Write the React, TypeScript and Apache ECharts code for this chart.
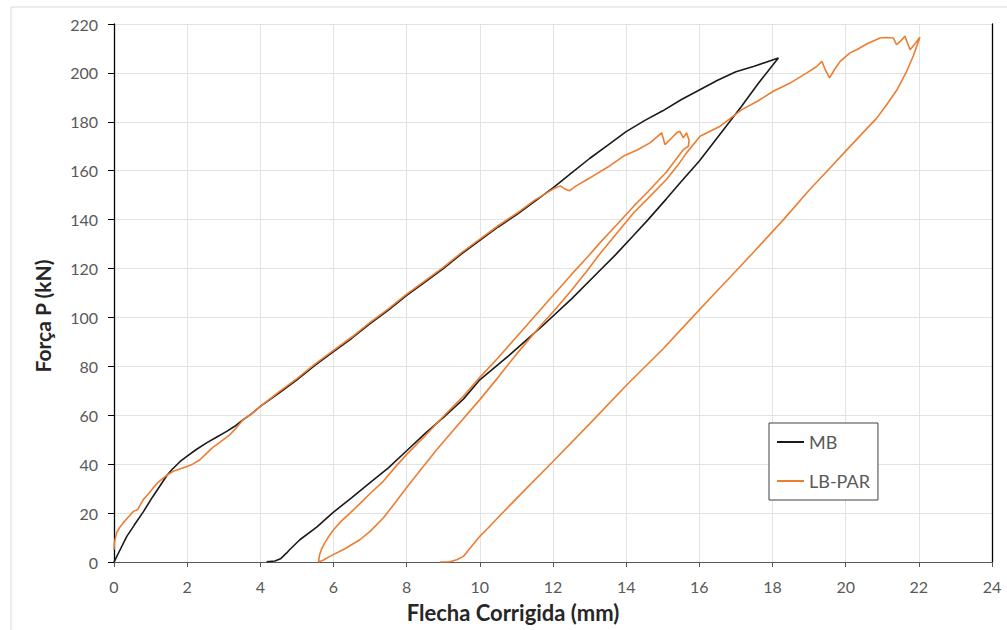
import React, { useEffect, useRef } from "react";
import * as echarts from "echarts";

// Axis ranges / ticks
const xMin = 0, xMax = 24, xStep = 2;
const yMin = 0, yMax = 220, yStep = 20;

const seriesNames = ["MB", "LB-PAR"];
const seriesColors = ["#1a1a1a", "#ED7D31"];

// MB: loading branch [flecha mm, força kN]
const mbLoading: number[][] = [
  [0, 0], [0.03, 0.9], [0.15, 4.5], [0.35, 10.5], [0.55, 15], [0.8, 20.5], [1.05, 26.5], [1.26, 31.2],
  [1.45, 35.5], [1.58, 37.7], [1.8, 41], [1.99, 43.2], [2.25, 46], [2.53, 48.7], [2.8, 51], [3.08, 53.4],
  [3.3, 55.5], [3.53, 58.2], [3.75, 60.5], [4.0, 63.6], [4.5, 69], [5.0, 74.5], [5.5, 80.5], [6.0, 86],
  [6.5, 91.5], [7.0, 97.5], [7.5, 103], [8.0, 109], [8.5, 114.5], [9.0, 120], [9.5, 126], [10.0, 131.5],
  [10.5, 137], [11.0, 142], [11.5, 147.5], [12.0, 153], [12.5, 159], [13.0, 165], [13.5, 170.5], [14.0, 176],
  [14.5, 180.5], [15.0, 184.5], [15.5, 189], [16.0, 193], [16.5, 197], [17.0, 200.5], [17.5, 202.7],
  [18.0, 205.3], [18.16, 206.1],
];

// MB: unloading branch
const mbUnloading: number[][] = [
  [17.6, 195.5], [17.16, 186.5], [16.57, 175], [16.0, 164], [15.5, 155.5], [15.1, 148.5], [14.6, 140],
  [14.2, 133.5], [13.7, 125.5], [13.3, 119.5], [12.5, 107.5], [11.65, 95.7], [10.8, 84.5], [10.0, 74.5],
  [9.55, 66.6], [9.0, 59], [8.5, 52.5], [8.0, 45.5], [7.5, 38.5], [7.0, 32.5], [6.5, 26.3], [6.0, 20.4],
  [5.54, 14.3], [5.08, 9.1], [4.8, 5], [4.72, 3.7], [4.55, 1.3], [4.4, 0.4], [4.17, 0.1],
];

// LB-PAR: first loading
const lbLoading1: number[][] = [
  [0, 5], [0.01, 7.8], [0.07, 11.9], [0.15, 14], [0.25, 16], [0.4, 18.5], [0.53, 20.7], [0.65, 21.5],
  [0.8, 25.5], [0.95, 28], [1.07, 30.3], [1.2, 32.5], [1.35, 34.4], [1.5, 36], [1.62, 37.1], [1.8, 38],
  [1.99, 39.1], [2.15, 40], [2.35, 41.8], [2.5, 44], [2.71, 47], [2.9, 49], [3.17, 52.1], [3.35, 55],
  [3.53, 58.2], [3.75, 60.5], [4.0, 63.6], [4.5, 69.5], [5.0, 75], [5.5, 81], [6.0, 86.5], [6.5, 92],
  [7.0, 98], [7.5, 103.5], [8.0, 109.5], [8.5, 115], [9.0, 120.5], [9.5, 126.5], [10.0, 132], [10.5, 137.5],
  [11.0, 142.5], [11.5, 148], [12.0, 152.5], [12.2, 153.8], [12.33, 152.5], [12.45, 151.8], [12.6, 153.5],
  [13.0, 157], [13.5, 161.5], [13.92, 165.9], [14.3, 168.5], [14.65, 171.4], [14.97, 175.5], [15.06, 170.7],
  [15.25, 173.5], [15.38, 175.5], [15.47, 176.1], [15.56, 173.4], [15.65, 175.5], [15.72, 172.5], [15.7, 170],
];

// LB-PAR: first unloading
const lbUnloading1: number[][] = [
  [15.56, 168.6], [15.1, 159.5], [14.6, 151.5], [14.2, 145.4], [13.75, 138], [13.3, 130.8], [12.9, 124],
  [12.5, 117.5], [12.0, 109], [11.5, 100.5], [11.0, 92], [10.5, 83.5], [10.0, 75.5], [9.5, 67], [9.0, 59.5],
  [8.5, 51.5], [8.0, 44], [7.7, 39], [7.36, 33], [7.0, 28], [6.8, 25], [6.45, 20], [6.2, 16.5], [6.0, 13.2],
  [5.85, 10], [5.75, 7.5], [5.68, 5.5], [5.62, 3], [5.59, 0],
];

// LB-PAR: reloading
const lbReloading1: number[][] = [
  [5.7, 0.6], [5.9, 2.3], [6.3, 5.3], [6.72, 9.1], [7.0, 12.5], [7.36, 18], [7.7, 24.5], [8.0, 30.5],
  [8.4, 38], [8.82, 45.9], [9.4, 56], [10.0, 66.4], [10.5, 75.5], [11.0, 85], [11.65, 96.4], [12.1, 104],
  [12.5, 111], [12.9, 118.5], [13.3, 126.4], [13.75, 134.5], [14.2, 142.7], [14.65, 149.5], [15.1, 156.4],
  [15.4, 162], [15.65, 167.3], [16.02, 174.1],
];

// LB-PAR: second loading up to peak
const lbLoading2: number[][] = [
  [16.57, 178.2], [17.16, 185], [17.6, 188.5], [18.02, 192.5], [18.5, 196], [18.94, 200], [19.2, 202.5],
  [19.35, 204.7], [19.45, 201], [19.56, 198], [19.7, 201.5], [19.85, 204.7], [20.12, 208.2], [20.3, 209.5],
  [20.6, 212], [20.94, 214.3], [21.1, 214.5], [21.3, 214.3], [21.39, 211.6], [21.5, 213], [21.62, 215],
  [21.76, 209.5], [21.9, 212], [22.03, 214.6],
];

// LB-PAR: final unloading
const lbUnloading2: number[][] = [
  [21.85, 207], [21.67, 200.7], [21.4, 193], [21.12, 187], [20.85, 181.5], [20.5, 176], [20.0, 168],
  [19.5, 160], [19.0, 152], [18.3, 140], [17.5, 127], [17.0, 119], [16.4, 109.5], [15.75, 99.1], [15.0, 87],
  [14.02, 72.5], [13.0, 56.5], [11.96, 40.5], [11.2, 29], [10.55, 19], [10.2, 13.5], [10.0, 10.5], [9.7, 5],
  [9.55, 2.3], [9.37, 0.9], [9.18, 0.1], [8.91, 0],
];

const xTitle = "Flecha Corrigida (mm)";
const yTitle = "Força P (kN)";

const FONT = "Lato, 'Open Sans', sans-serif";

export default function App() {
  const ref = useRef<HTMLDivElement>(null);

  useEffect(() => {
    if (!ref.current) return;
    const chart = echarts.init(ref.current, undefined, { renderer: "svg" });
    const mbData = [...mbLoading, ...mbUnloading];
    const lbData = [...lbLoading1, ...lbUnloading1, ...lbReloading1, ...lbLoading2, ...lbUnloading2];

    chart.setOption({
      animation: false,
      backgroundColor: "#ffffff",
      grid: { left: 114, right: 15, top: 24, bottom: 68, containLabel: false },
      xAxis: {
        type: "value",
        min: xMin,
        max: xMax,
        interval: xStep,
        axisLine: { show: true, lineStyle: { color: "#595959", width: 1 } },
        axisTick: { show: true, length: 5, lineStyle: { color: "#595959" } },
        axisLabel: { color: "#595959", fontSize: 16, fontFamily: FONT, margin: 16 },
        splitLine: { show: true, lineStyle: { color: "#e3e3e3", width: 1 } },
      },
      yAxis: [
        {
          type: "value",
          min: yMin,
          max: yMax,
          interval: yStep,
          axisLine: { show: true, onZero: false, lineStyle: { color: "#000000", width: 1.3 } },
          axisTick: { show: true, length: 6, lineStyle: { color: "#000000" } },
          axisLabel: { color: "#595959", fontSize: 16, fontFamily: FONT, margin: 16 },
          splitLine: { show: true, lineStyle: { color: "#e3e3e3", width: 1 } },
        },
        {
          type: "value",
          position: "right",
          min: yMin,
          max: yMax,
          interval: yStep,
          axisLine: { show: true, onZero: false, lineStyle: { color: "#000000", width: 1.3 } },
          axisTick: { show: false },
          axisLabel: { show: false },
          splitLine: { show: false },
        },
      ],
      legend: {
        data: seriesNames,
        orient: "vertical",
        left: 769,
        top: 423,
        icon: "rect",
        itemWidth: 27,
        itemHeight: 2,
        itemGap: 21,
        padding: [10, 8, 10, 8],
        backgroundColor: "#ffffff",
        borderColor: "#404040",
        borderWidth: 1,
        borderRadius: 0,
        textStyle: { color: "#595959", fontSize: 18, fontFamily: FONT, lineHeight: 18 },
      },
      graphic: [
        {
          type: "rect",
          silent: true,
          z: -10,
          shape: { x: 11, y: 7, width: 1100, height: 700 },
          style: { fill: "none", stroke: "#d9d9d9", lineWidth: 1 },
        },
        {
          type: "text",
          x: 42,
          y: 316,
          rotation: Math.PI / 2,
          style: {
            text: yTitle,
            fill: "#262626",
            font: `bold 21px ${FONT}`,
            align: "center",
            verticalAlign: "middle",
          },
        },
        {
          type: "text",
          x: 513,
          y: 612,
          style: {
            text: xTitle,
            fill: "#262626",
            font: `bold 22px ${FONT}`,
            align: "center",
            verticalAlign: "middle",
          },
        },
      ],
      series: [
        {
          name: seriesNames[0],
          type: "line",
          data: mbData,
          showSymbol: false,
          symbol: "none",
          color: seriesColors[0],
          lineStyle: { color: seriesColors[0], width: 1.6 },
          z: 2,
        },
        {
          name: seriesNames[1],
          type: "line",
          data: lbData,
          showSymbol: false,
          symbol: "none",
          color: seriesColors[1],
          lineStyle: { color: seriesColors[1], width: 1.6 },
          z: 3,
        },
      ],
    });

    return () => chart.dispose();
  }, []);

  return (
    <div
      ref={ref}
      style={{ position: "fixed", left: 0, top: 0, width: 1007, height: 630, background: "#fff" }}
    />
  );
}
